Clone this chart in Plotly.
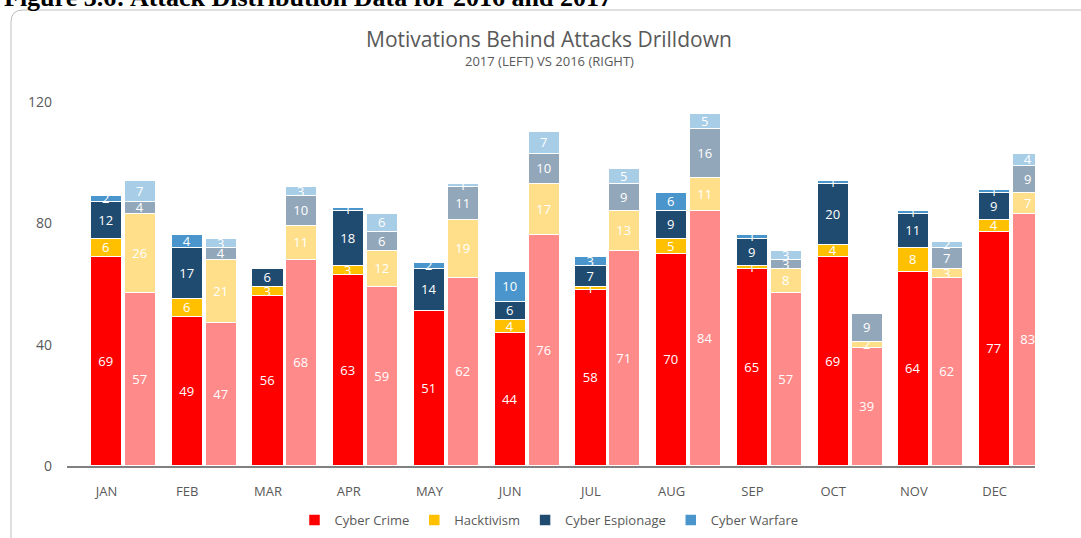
import plotly.graph_objects as go

months = ["JAN", "FEB", "MAR", "APR", "MAY", "JUN", "JUL", "AUG", "SEP", "OCT", "NOV", "DEC"]

# 2017 (left bars)
crime_2017 = [69, 49, 56, 63, 51, 44, 58, 70, 65, 69, 64, 77]
hack_2017 = [6, 6, 3, 3, 0, 4, 1, 5, 1, 4, 8, 4]
esp_2017 = [12, 17, 6, 18, 14, 6, 7, 9, 9, 20, 11, 9]
war_2017 = [2, 4, 0, 1, 2, 10, 3, 6, 1, 1, 1, 1]

# 2016 (right bars)
crime_2016 = [57, 47, 68, 59, 62, 76, 71, 84, 57, 39, 62, 83]
hack_2016 = [26, 21, 11, 12, 19, 17, 13, 11, 8, 2, 3, 7]
esp_2016 = [4, 4, 10, 6, 11, 10, 9, 16, 3, 9, 7, 9]
war_2016 = [7, 3, 3, 6, 1, 7, 5, 5, 3, 0, 2, 4]

series_names = ["Cyber Crime", "Hacktivism", "Cyber Espionage", "Cyber Warfare"]
colors_2017 = ["#FF0000", "#FFC000", "#1F4B70", "#4A95CC"]
colors_2016 = ["#FF8A8A", "#FFDF8A", "#93A7BA", "#A8CDE6"]

W, H = 1081, 538
ML, MR, MT, MB = 67, 46, 62, 72
PW, PH = W - ML - MR, H - MT - MB


def px(x):
    return (x - ML) / PW


def py(y):
    return 1 - (y - MT) / PH


xl = list(range(len(months)))
offset = 0.42
xr = [i + offset for i in xl]
bw = 0.385

fig = go.Figure()
data17 = [crime_2017, hack_2017, esp_2017, war_2017]
data16 = [crime_2016, hack_2016, esp_2016, war_2016]
for name, vals, col in zip(series_names, data17, colors_2017):
    fig.add_trace(go.Bar(
        x=xl, y=vals, name=name, width=bw,
        marker=dict(color=col, line=dict(color="white", width=1.5)),
        text=[str(v) for v in vals], textposition="inside",
        insidetextanchor="middle", textangle=0, constraintext="none",
        textfont=dict(color="white", size=13, family="Open Sans"),
        cliponaxis=False, legendgroup=name, showlegend=True,
    ))
for name, vals, col in zip(series_names, data16, colors_2016):
    fig.add_trace(go.Bar(
        x=xr, y=vals, name=name + " 2016", width=bw,
        marker=dict(color=col, line=dict(color="white", width=1.5)),
        text=[str(v) for v in vals], textposition="inside",
        insidetextanchor="middle", textangle=0, constraintext="none",
        textfont=dict(color="white", size=13, family="Open Sans"),
        cliponaxis=False, showlegend=False,
    ))

# rounded border of chart area
x0, y0, x1, y1, r = 11, 10, 1090, 560, 12
path = (f"M {px(x0)},{py(y0 + r)} "
        f"Q {px(x0)},{py(y0)} {px(x0 + r)},{py(y0)} "
        f"L {px(x1)},{py(y0)} L {px(x1)},{py(y1)} L {px(x0)},{py(y1)} Z")
fig.add_shape(type="path", path=path, xref="paper", yref="paper",
              line=dict(color="#BFBFBF", width=1), layer="below")

fig.update_layout(
    width=W, height=H,
    margin=dict(l=ML, r=MR, t=MT, b=MB, autoexpand=False),
    barmode="stack",
    plot_bgcolor="white", paper_bgcolor="white",
    font=dict(family="Open Sans", color="#595959"),
    xaxis=dict(
        range=[-0.49, 11.5], tickvals=xl, ticktext=months,
        showgrid=False, zeroline=False, showline=True,
        linecolor="#808080", linewidth=2, ticks="",
        tickfont=dict(size=13, color="#595959"), ticklabelstandoff=12,
    ),
    yaxis=dict(
        range=[0, 133.2], tickvals=[0, 40, 80, 120],
        showgrid=False, zeroline=False, showline=False, ticks="",
        tickfont=dict(size=14, color="#595959"), ticklabelstandoff=14,
    ),
    legend=dict(
        orientation="h", xref="container", yref="container",
        x=549 / W, xanchor="center", y=1 - 520 / H, yanchor="middle",
        font=dict(size=13, color="#595959"), traceorder="normal",
        itemwidth=30, tracegroupgap=0,
    ),
    bargap=0,
)

fig.add_annotation(
    text="Motivations Behind Attacks Drilldown", x=px(549), y=py(39),
    xref="paper", yref="paper", showarrow=False, xanchor="center", yanchor="middle",
    font=dict(size=21, color="#595959", family="Open Sans"),
)
fig.add_annotation(
    text="2017 (LEFT) VS 2016 (RIGHT)", x=px(549), y=py(61),
    xref="paper", yref="paper", showarrow=False, xanchor="center", yanchor="middle",
    font=dict(size=13, color="#595959", family="Open Sans"),
)
fig.add_annotation(
    text="<b>Figure 3.6: Attack Distribution Data for 2016 and 2017</b>", x=px(2), y=py(-3),
    xref="paper", yref="paper", showarrow=False, xanchor="left", yanchor="middle",
    font=dict(size=26, color="black", family="Liberation Serif"),
)

fig.write_html("out.html")
